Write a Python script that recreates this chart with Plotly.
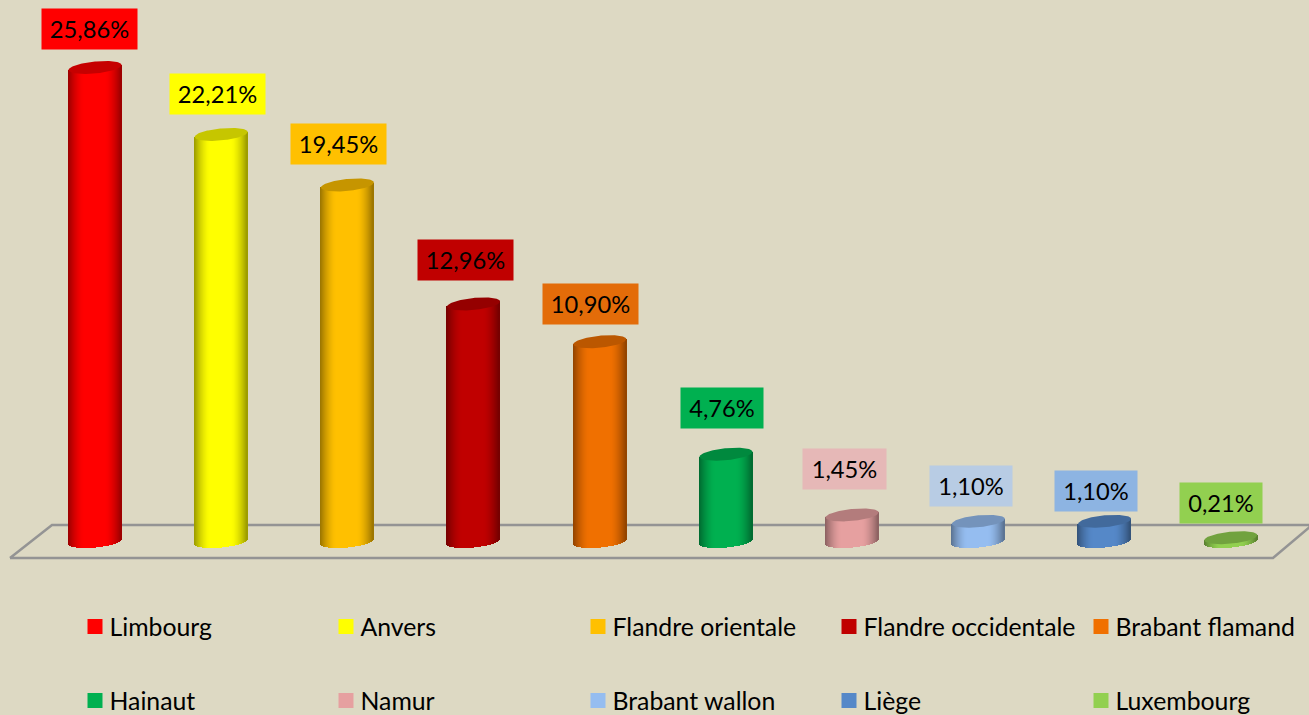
import math
import plotly.graph_objects as go

# ---------- data ----------
regions = ["Limbourg", "Anvers", "Flandre orientale", "Flandre occidentale", "Brabant flamand",
           "Hainaut", "Namur", "Brabant wallon", "Liège", "Luxembourg"]
shares = [25.86, 22.21, 19.45, 12.96, 10.90, 4.76, 1.45, 1.10, 1.10, 0.21]

# ---------- styles ----------
bar_colors = ["#FF0000", "#FFFF00", "#FFC000", "#C00000", "#F07000",
              "#00B050", "#E6A0A0", "#95BDF0", "#5588C8", "#92D050"]
label_colors = ["#FF0000", "#FFFF00", "#FFC000", "#C00000", "#E36C09",
                "#00B050", "#E6B8B7", "#B8CCE4", "#8DB4E2", "#92D050"]
label_dx = [-6, -3.5, -8.5, -8.5, -9, -4, -7.5, -7, -9, -9.5]
label_dy = [38, 40, 40.5, 43.5, 38, 46, 45.5, 35, 30, 35]
label_w = [96, 96, 96, 96, 96, 83, 84, 83, 83, 83]
legend_text_x = [109.5, 360.5, 612.5, 863.5, 1115.5]
legend_row_y = [627, 701]
W, H = 1309, 715
PX_X, PX_Y = 126.2, 18.33
FIRST_X, BASE_Y = 95.0, 541.5
HALF = 26.5          # cylinder half width, px
RISE = 2.5           # tilt of the ellipse over its half width, px
MINOR = 6.0          # ellipse semi-minor, px
FONT = "Lato"


def shade(col, f):
    r, g, b = (int(col[i:i + 2], 16) for i in (1, 3, 5))
    return f"rgb({int(r * f)},{int(g * f)},{int(b * f)})"


def arc(dx):
    return MINOR * math.sqrt(max(0.0, 1 - (dx / HALF) ** 2))


def legend_id(i):
    return "legend" if i == 0 else f"legend{i + 1}"


fig = go.Figure()
offsets = [k + 0.5 - HALF for k in range(int(2 * HALF))]

# full-size legend-carrying bars (hidden under the shaded strips)
for i, (name, v, col) in enumerate(zip(regions, shares, bar_colors)):
    fig.add_trace(go.Bar(x=[i], y=[v], width=0.1, name=name, marker=dict(color=col, line=dict(color=col, width=3)),
                         legend=legend_id(i), showlegend=True, hoverinfo="skip"))

# shaded cylinder bodies made of one-pixel strips
for i, (v, col) in enumerate(zip(shares, bar_colors)):
    xs, tops, bases, cols = [], [], [], []
    for dx in offsets:
        tilt = RISE * dx / HALF
        low = (tilt - arc(dx)) / PX_Y
        xs.append(i + dx / PX_X)
        bases.append(low)
        tops.append(v + tilt / PX_Y - low)
        u = abs(dx) / HALF
        cols.append(shade(col, 1.0 if u < 0.4 else 1.0 - 0.4 * ((u - 0.4) / 0.6) ** 1.6))
    fig.add_trace(go.Bar(x=xs, y=tops, base=bases, width=1.25 / PX_X, showlegend=False, hoverinfo="skip",
                         marker=dict(color=cols, line=dict(width=0))))

# ellipse tops
for i, (v, col) in enumerate(zip(shares, bar_colors)):
    ex, ey = [], []
    for dx in offsets + [HALF]:
        ex.append(i + dx / PX_X)
        ey.append(v + (RISE * dx / HALF + arc(dx)) / PX_Y)
    for dx in reversed([-HALF] + offsets):
        ex.append(i + dx / PX_X)
        ey.append(v + (RISE * dx / HALF - arc(dx)) / PX_Y)
    fig.add_trace(go.Scatter(x=ex, y=ey, mode="lines", fill="toself", fillcolor=shade(col, 0.78),
                             line=dict(width=0), showlegend=False, hoverinfo="skip"))

annotations = []
for i, v in enumerate(shares):
    annotations.append(dict(x=i, y=v, xref="x", yref="y", xshift=label_dx[i], yshift=label_dy[i],
                            text=f"{v:.2f}%".replace(".", ","), showarrow=False, bgcolor=label_colors[i],
                            width=label_w[i] - 3, height=38, font=dict(family=FONT, size=23.7, color="#000000")))


def px(x):
    return x / W


def py(y):
    return 1 - y / H


floor = (f"M {px(10)} {py(558)} L {px(52)} {py(525)} L {px(1312)} {py(525)} "
         f"M {px(10)} {py(558)} L {px(1273)} {py(558)} L {px(1312)} {py(525)}")

legends = {}
for i in range(len(regions)):
    legends[legend_id(i)] = dict(
        xanchor="left", yanchor="middle", x=px(legend_text_x[i % 5] - 40), y=py(legend_row_y[i // 5]),
        bgcolor="rgba(0,0,0,0)", font=dict(family=FONT, size=24.8, color="#000000"),
        itemclick=False, itemdoubleclick=False, borderwidth=0)

fig.update_layout(
    width=W, height=H, margin=dict(l=0, r=0, t=0, b=0, pad=0, autoexpand=False),
    paper_bgcolor="#DDD9C3", plot_bgcolor="#DDD9C3", barmode="overlay", bargap=0,
    xaxis=dict(range=[-FIRST_X / PX_X, (W - FIRST_X) / PX_X], visible=False, fixedrange=True),
    yaxis=dict(range=[-(H - BASE_Y) / PX_Y, BASE_Y / PX_Y], visible=False, fixedrange=True),
    showlegend=True,
    annotations=annotations,
    shapes=[dict(type="path", path=floor, xref="paper", yref="paper", layer="below",
                 line=dict(color="#949494", width=2.5))],
    **legends,
)

post = """
document.body.style.margin = '0';
document.querySelectorAll('.legendsymbols').forEach(function (e) {
  e.setAttribute('transform', 'translate(5.5,0)');
});
"""
fig.write_html("out.html", config={"displayModeBar": False}, post_script=post)
